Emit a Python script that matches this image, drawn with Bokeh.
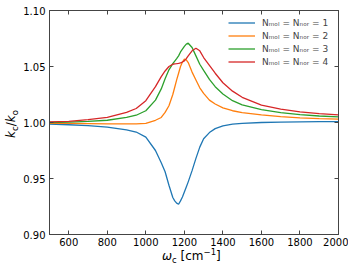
from bokeh.plotting import figure
from bokeh.models import (LinearAxis, FixedTicker, NumeralTickFormatter,
                          Legend, LegendItem, Range1d, Div)
from bokeh.layouts import row, column
from bokeh.embed import file_html
from bokeh.resources import INLINE

# ---- data ----
omega = [500, 600, 700, 800, 900, 950, 1000, 1050, 1080, 1100, 1120, 1140, 1150,
         1160, 1170, 1180, 1190, 1200, 1210, 1220, 1240, 1260, 1280, 1300, 1330,
         1360, 1400, 1450, 1500, 1600, 1700, 1800, 1900, 2000]

k_n1 = [0.9986, 0.9980, 0.9972, 0.9958, 0.9935, 0.9915, 0.9870, 0.9750, 0.9640,
        0.9560, 0.9440, 0.9330, 0.9300, 0.9280, 0.9270, 0.9300, 0.9335, 0.9380,
        0.9425, 0.9470, 0.9570, 0.9680, 0.9780, 0.9855, 0.9910, 0.9945, 0.9970,
        0.9985, 0.9993, 1.0000, 1.0004, 1.0006, 1.0007, 1.0008]

k_n2 = [0.9993, 0.9992, 0.9990, 0.9988, 0.9987, 0.9988, 0.9993, 1.0020, 1.0045,
        1.0090, 1.0150, 1.0250, 1.0315, 1.0380, 1.0440, 1.0500, 1.0540, 1.0565,
        1.0560, 1.0535, 1.0450, 1.0380, 1.0310, 1.0260, 1.0200, 1.0165, 1.0130,
        1.0105, 1.0088, 1.0068, 1.0052, 1.0042, 1.0035, 1.0030]

k_n3 = [1.0000, 1.0004, 1.0010, 1.0020, 1.0045, 1.0065, 1.0105, 1.0200, 1.0300,
        1.0390, 1.0470, 1.0525, 1.0548, 1.0570, 1.0595, 1.0630, 1.0655, 1.0680,
        1.0700, 1.0708, 1.0670, 1.0595, 1.0520, 1.0465, 1.0385, 1.0320, 1.0255,
        1.0195, 1.0158, 1.0115, 1.0088, 1.0070, 1.0058, 1.0050]

k_n4 = [1.0005, 1.0010, 1.0025, 1.0045, 1.0090, 1.0125, 1.0195, 1.0320, 1.0410,
        1.0460, 1.0500, 1.0520, 1.0523, 1.0525, 1.0528, 1.0532, 1.0540, 1.0550,
        1.0570, 1.0595, 1.0640, 1.0663, 1.0640, 1.0580, 1.0510, 1.0440, 1.0355,
        1.0280, 1.0225, 1.0155, 1.0120, 1.0095, 1.0080, 1.0068]

series = [k_n1, k_n2, k_n3, k_n4]
n_values = ["1", "2", "3", "4"]
labels = ["N\u2098\u2092\u2097 = N\u2099\u2092\u1d63 = " + n for n in n_values]
colors = ["#1f77b4", "#ff7f0e", "#2ca02c", "#d62728"]

x_ticks = [600, 800, 1000, 1200, 1400, 1600, 1800, 2000]
y_ticks = [0.90, 0.95, 1.00, 1.05, 1.10]

FONT = "DejaVu Sans"
AX = "#444444"

p = figure(width=328, height=250, output_backend="svg", toolbar_location=None,
           x_range=Range1d(500, 2000), y_range=Range1d(0.90, 1.10),
           min_border_left=28, min_border_right=10, min_border_top=10,
           min_border_bottom=16, background_fill_color="white",
           border_fill_color="white", outline_line_color=AX, outline_line_width=1)
p.grid.visible = False

for ax in (p.xaxis[0], p.yaxis[0]):
    ax.major_tick_in = 4
    ax.major_tick_out = 0
    ax.minor_tick_line_color = None
    ax.axis_line_color = AX
    ax.major_tick_line_color = AX
    ax.major_label_text_font = FONT
    ax.major_label_text_font_size = "10px"
    ax.major_label_text_color = "black"
p.xaxis[0].ticker = FixedTicker(ticks=x_ticks)
p.yaxis[0].ticker = FixedTicker(ticks=y_ticks)
p.yaxis[0].formatter = NumeralTickFormatter(format="0.00")
p.xaxis[0].major_label_standoff = 3
p.yaxis[0].major_label_standoff = 4

for loc, tk in (("above", x_ticks), ("right", y_ticks)):
    a = LinearAxis(ticker=FixedTicker(ticks=tk), major_tick_in=4, major_tick_out=0,
                   minor_tick_line_color=None, axis_line_color=AX,
                   major_tick_line_color=AX, major_label_text_font_size="1px",
                   major_label_text_color=None, major_label_standoff=0)
    p.add_layout(a, loc)

items = []
for vals, lab, col in zip(series, labels, colors):
    r = p.line(omega, vals, line_color=col, line_width=1.3)
    items.append(LegendItem(label=lab, renderers=[r]))

legend = Legend(items=items, location=(176, 163), glyph_width=27, glyph_height=13,
                label_height=13, label_standoff=7, spacing=0, padding=3, margin=0,
                label_text_font=FONT, label_text_font_size="9px",
                border_line_alpha=0, background_fill_alpha=0)
p.add_layout(legend)

BASE = "font-family:'DejaVu Sans',sans-serif;font-size:12px;line-height:12px;color:black;white-space:nowrap;"
SUB = "font-size:8.5px;position:relative;top:2.5px;"
SUP = "font-size:8.5px;position:relative;top:-5px;"

y_html = ('<div style="position:relative;width:20px;height:250px;">'
          '<div style="position:absolute;left:5px;top:138px;transform-origin:0 0;'
          'transform:rotate(-90deg);' + BASE + '">'
          '<i>k</i><span style="' + SUB + '">c</span>/<i>k</i>'
          '<span style="' + SUB + '">o</span></div></div>')
x_html = ('<div style="position:relative;width:340px;height:19px;">'
          '<div style="position:absolute;left:162px;top:0px;' + BASE + '">'
          '<i>\u03c9</i><span style="' + SUB + '">c</span> [cm'
          '<span style="' + SUP + '">\u22121</span>]</div></div>')

ydiv = Div(text=y_html, width=20, height=250, margin=0)
xdiv = Div(text=x_html, width=340, height=19, margin=0)

layout = column(row(ydiv, p, spacing=0), xdiv, spacing=0)

open("out.html", "w").write(file_html(layout, INLINE))
